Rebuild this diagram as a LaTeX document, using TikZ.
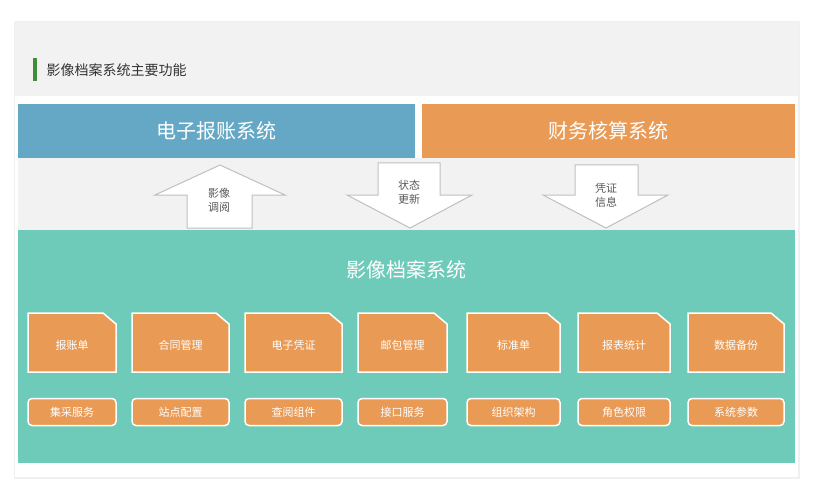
\documentclass[tikz,border=0pt]{standalone}
\usepackage{fontspec}
\setmainfont{Noto Sans CJK SC}
\usetikzlibrary{positioning}
\definecolor{sysblue}{HTML}{64A8C5}
\definecolor{sysorange}{HTML}{E99A55}
\definecolor{systeal}{HTML}{6ECAB9}
\definecolor{bandgray}{HTML}{F2F2F2}
\definecolor{titlegreen}{HTML}{3E8E3A}
\tikzset{
  sysbox/.style={minimum height=54pt, text=white, font=\fontsize{20}{22}\selectfont, inner sep=0pt},
  cutcard/.style={fill=sysorange, draw=white, line width=1.5pt, text=white, font=\fontsize{11}{13}\selectfont},
  roundcard/.style={fill=sysorange, draw=white, line width=1.5pt, rounded corners=4pt, text=white,
    font=\fontsize{11}{13}\selectfont, minimum height=27pt, inner sep=0pt},
  flowarrow/.style={fill=white, draw=black!25, line width=1pt},
  arrowtext/.style={text=black!65, font=\fontsize{11}{14}\selectfont, align=center}
}
\begin{document}
\begin{tikzpicture}[x=1pt,y=-1pt]
  \useasboundingbox (0,0) rectangle (814,500);
  % card and header
  \fill[black!6] (14,21) rectangle (800,479);
  \fill[white] (15,22) rectangle (798,477);
  \fill[bandgray] (15,22) rectangle (798,96);
  \fill[titlegreen] (33,58) rectangle (37,81);
  \node[anchor=west, text=black!80, font=\fontsize{14}{16}\selectfont] (head) at (43,70) {影像档案系统主要功能};
  % systems
  \node[sysbox, fill=sysblue, minimum width=397pt] (ebill) at (216.5,131) {电子报账系统};
  \node[sysbox, fill=sysorange, minimum width=373pt] (fin) at (608.5,131) {财务核算系统};
  \fill[bandgray] (18,158) rectangle (795,230);
  \fill[systeal] (18,230) rectangle (795,463);
  \node[text=white, font=\fontsize{20}{22}\selectfont] (arch) at (406,270) {影像档案系统};
  % arrows
  \draw[flowarrow] (187,228) -- (187,195) -- (155,195) -- (220,165) -- (285,195) -- (252,195) -- (252,228) -- cycle;
  \node[arrowtext] (a1) at (219,200) {影像\\调阅};
  \draw[flowarrow] (378,163) -- (440,163) -- (440,195) -- (472,195) -- (410,228) -- (347,195) -- (378,195) -- cycle;
  \node[arrowtext] (a2) at (409,192) {状态\\更新};
  \draw[flowarrow] (575,165) -- (638,165) -- (638,195) -- (668,195) -- (606,228) -- (543,195) -- (575,195) -- cycle;
  \node[arrowtext] (a3) at (606,195) {凭证\\信息};
  % function cards
  \foreach \x/\w/\top/\bot [count=\i] in {
      28/88/报账单/集采服务, 132/97/合同管理/站点配置, 245/97/电子凭证/查阅组件,
      358/89/邮包管理/接口服务, 467/93/标准单/组织架构, 578/92/报表统计/角色权限,
      688/96/数据备份/系统参数} {
    \draw[cutcard] (\x,313) -- (\x+\w-13,313) -- (\x+\w,324) -- (\x+\w,372) -- (\x,372) -- cycle;
    \node[text=white, font=\fontsize{11}{13}\selectfont] (top\i) at (\x+\w/2,345) {\top};
    \node[roundcard, minimum width=\w pt] (bot\i) at (\x+\w/2,412) {\bot};
  }
\end{tikzpicture}
\end{document}
